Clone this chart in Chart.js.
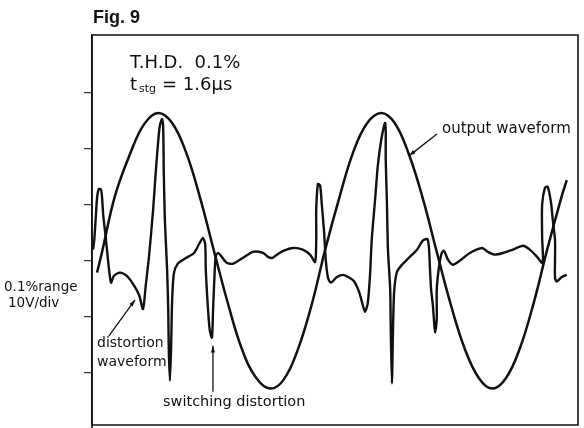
<!DOCTYPE html>
<html>
<head>
<meta charset="utf-8">
<script src="https://cdn.jsdelivr.net/npm/chart.js@4.4.1/dist/chart.umd.min.js"></script>
<style>
  html, body { margin: 0; padding: 0; background: #fff; }
  #wrap { width: 584px; height: 428px; position: relative; }
</style>
</head>
<body>
<div id="wrap"><canvas id="c" width="584" height="428"></canvas></div>
<script>
// Horizontal position in divisions (same size as vertical divisions), vertical in divisions (10V/div)
const outputX = [0.09,0.18,0.41,0.68,0.93,1.18,1.43,1.68,1.93,2.18,2.43,2.68,2.93,3.18,3.42,3.67,3.92,4.16,4.41,4.66,4.91,5.16,5.40,5.65,5.90,6.15,6.40,6.65,6.90,7.14,7.38,7.63,7.88,8.12,8.37,8.47];
const outputY = [-0.21,0.16,1.16,1.91,2.44,2.64,2.46,1.93,1.12,0.16,-0.78,-1.59,-2.09,-2.28,-2.12,-1.59,-0.78,0.20,1.12,1.94,2.46,2.64,2.46,1.91,1.12,0.16,-0.78,-1.57,-2.09,-2.28,-2.10,-1.57,-0.75,0.20,1.12,1.44];

const distortionX = [0.02,0.04,0.07,0.09,0.12,0.16,0.18,0.20,0.25,0.30,0.34,0.39,0.50,0.62,0.73,0.84,0.91,0.96,1.02,1.09,1.14,1.18,1.21,1.25,1.27,1.28,1.30,1.34,1.36,1.37,1.39,1.41,1.43,1.46,1.53,1.66,1.82,1.91,1.98,2.02,2.03,2.07,2.10,2.14,2.16,2.19,2.21,2.25,2.30,2.41,2.52,2.69,2.87,3.05,3.14,3.21,3.30,3.42,3.59,3.76,3.89,3.98,4.00,4.00,4.03,4.07,4.10,4.14,4.17,4.21,4.26,4.37,4.48,4.57,4.67,4.76,4.82,4.87,4.92,4.96,4.99,5.05,5.10,5.16,5.21,5.23,5.24,5.24,5.26,5.28,5.32,5.33,5.35,5.37,5.39,5.44,5.53,5.62,5.71,5.80,5.90,5.98,6.01,6.03,6.05,6.08,6.10,6.12,6.15,6.15,6.19,6.24,6.28,6.35,6.44,6.56,6.74,6.96,7.06,7.19,7.33,7.51,7.69,7.81,7.94,8.04,8.03,8.03,8.08,8.13,8.19,8.22,8.26,8.26,8.26,8.29,8.38,8.47];
const distortionY = [0.20,0.37,0.82,1.12,1.28,1.27,1.12,0.82,0.37,-0.12,-0.39,-0.27,-0.21,-0.27,-0.41,-0.61,-0.86,-0.43,0.11,0.91,1.62,2.12,2.41,2.53,2.37,1.62,0.73,-0.16,-0.87,-1.59,-2.14,-1.59,-0.70,-0.23,-0.05,0.04,0.14,0.30,0.41,0.29,-0.16,-0.87,-1.23,-1.37,-0.87,-0.16,0.09,0.14,0.09,-0.04,-0.05,0.05,0.16,0.14,0.07,0.05,0.11,0.18,0.23,0.20,0.11,-0.02,0.37,0.91,1.37,1.34,1.00,0.52,0.02,-0.30,-0.39,-0.29,-0.25,-0.29,-0.36,-0.54,-0.75,-0.91,-0.75,-0.25,0.37,1.09,1.71,2.16,2.41,2.46,2.30,1.80,1.09,0.20,-0.52,-1.23,-2.19,-1.23,-0.55,-0.20,-0.07,0.02,0.11,0.20,0.36,0.39,0.25,-0.16,-0.52,-0.78,-1.05,-1.28,-1.05,-0.52,-0.11,0.14,0.18,0.02,-0.07,0.00,0.14,0.23,0.16,0.11,0.14,0.20,0.27,0.20,0.07,-0.04,0.43,1.00,1.30,1.32,1.03,0.73,0.37,0.02,-0.30,-0.37,-0.29,-0.25];

const yTickValues = [-2,-1,0,1,2,3];
const xRange = [0, 8.67];
const yRange = [-2.93, 4.03];

const FONT = "'DejaVu Sans', sans-serif";

const decor = {
  id: 'decor',
  afterDraw(chart) {
    const {ctx, chartArea: a, scales: {x, y}} = chart;
    ctx.save();
    ctx.strokeStyle = '#111';
    ctx.lineWidth = 1.6;
    ctx.beginPath();
    ctx.moveTo(a.left, chart.height);
    ctx.lineTo(a.left, a.top);
    ctx.lineTo(a.right, a.top);
    ctx.lineTo(a.right, a.bottom);
    ctx.lineTo(a.left, a.bottom);
    ctx.stroke();

    function arrow(x1, y1, x2, y2) {
      const p1x = x.getPixelForValue(x1), p1y = y.getPixelForValue(y1);
      const p2x = x.getPixelForValue(x2), p2y = y.getPixelForValue(y2);
      ctx.lineWidth = 1.3;
      ctx.beginPath(); ctx.moveTo(p1x, p1y); ctx.lineTo(p2x, p2y); ctx.stroke();
      const ang = Math.atan2(p2y - p1y, p2x - p1x);
      const L = 7, W = 0.3;
      ctx.beginPath();
      ctx.moveTo(p2x, p2y);
      ctx.lineTo(p2x - L * Math.cos(ang - W), p2y - L * Math.sin(ang - W));
      ctx.lineTo(p2x - L * Math.cos(ang + W), p2y - L * Math.sin(ang + W));
      ctx.closePath();
      ctx.fillStyle = '#111';
      ctx.fill();
    }
    arrow(6.154, 2.265, 5.655, 1.873);
    arrow(0.303, -1.338, 0.767, -0.696);
    arrow(2.158, -2.337, 2.158, -1.516);

    ctx.fillStyle = '#111';
    ctx.textBaseline = 'alphabetic';
    ctx.textAlign = 'left';
    ctx.font = "bold 18px 'Liberation Sans', sans-serif";
    ctx.fillText('Fig. 9', 93, 23);

    ctx.font = '18px ' + FONT;
    ctx.fillText('T.H.D.  0.1%', 130, 68);
    ctx.fillText('t', 130, 90);
    ctx.font = '11px ' + FONT;
    ctx.fillText('stg', 139, 92);
    ctx.font = '18px ' + FONT;
    ctx.fillText('= 1.6\u03bcs', 162, 90);

    ctx.font = '15px ' + FONT;
    ctx.fillText('output waveform', 442, 133);

    ctx.font = '14px ' + FONT;
    ctx.fillText('distortion', 97, 347);
    ctx.fillText('waveform', 97, 366);
    ctx.font = '14.5px ' + FONT;
    ctx.fillText('switching distortion', 163, 406);

    ctx.font = '13.5px ' + FONT;
    ctx.fillText('0.1%range', 4, 291);
    ctx.fillText('10V/div', 8, 307);
    ctx.restore();
  }
};

new Chart(document.getElementById('c'), {
  type: 'scatter',
  data: {
    datasets: [
      {
        label: 'output waveform',
        data: outputX.map((v, i) => ({x: v, y: outputY[i]})),
        showLine: true,
        borderColor: '#111',
        borderWidth: 2.5,
        pointRadius: 0,
        tension: 0.4
      },
      {
        label: 'distortion waveform',
        data: distortionX.map((v, i) => ({x: v, y: distortionY[i]})),
        showLine: true,
        borderColor: '#111',
        borderWidth: 2.4,
        pointRadius: 0,
        tension: 0.25
      }
    ]
  },
  options: {
    responsive: false,
    animation: false,
    events: [],
    layout: { padding: { left: 84, right: 6, top: 35, bottom: 3 } },
    plugins: { legend: { display: false }, tooltip: { enabled: false } },
    scales: {
      x: { type: 'linear', display: false, min: xRange[0], max: xRange[1] },
      y: {
        type: 'linear', min: yRange[0], max: yRange[1],
        afterBuildTicks: (s) => { s.ticks = yTickValues.map(v => ({value: v})); },
        ticks: { display: false },
        border: { display: true, color: '#111', width: 1.6 },
        grid: { drawOnChartArea: false, drawTicks: true, tickLength: 8, color: '#333', lineWidth: 1.2 }
      }
    }
  },
  plugins: [decor]
});
</script>
</body>
</html>
